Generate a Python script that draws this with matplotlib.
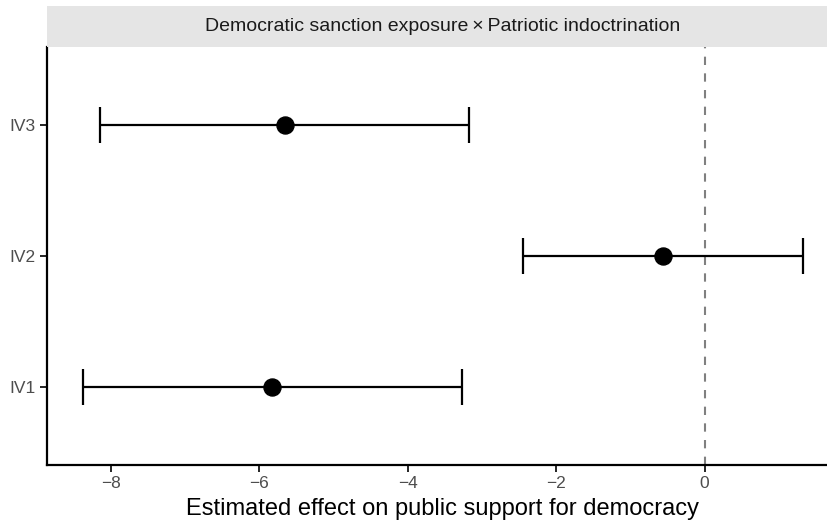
import matplotlib
matplotlib.use("Agg")
import matplotlib.pyplot as plt
from matplotlib.patches import Rectangle

plt.rcParams['font.family'] = ['Liberation Sans', 'DejaVu Sans']

# coefficient estimates with 95% intervals
terms = ["IV1", "IV2", "IV3"]
estimate = [-5.83, -0.56, -5.65]
lower = [-8.37, -2.45, -8.14]
upper = [-3.27, 1.33, -3.17]
xticks = [-8, -6, -4, -2, 0]
panel_title = "Democratic sanction exposure\u2009\u00d7\u2009Patriotic indoctrination"

fig = plt.figure(figsize=(8.27, 5.24), dpi=100)
W, H = 827, 524
left, right, top, bottom = 47, 827, 47, 465
ax = fig.add_axes([left / W, 1 - bottom / H, (right - left) / W, (bottom - top) / H])

ypos = list(range(1, len(terms) + 1))
ax.axvline(0, color="#808080", ls=(0, (4, 4)), lw=1.5, zorder=1)
ax.errorbar(estimate, ypos,
            xerr=[[e - l for e, l in zip(estimate, lower)],
                  [u - e for e, u in zip(estimate, upper)]],
            fmt="none", ecolor="black", elinewidth=1.6, capsize=13, capthick=1.6, zorder=2)
ax.scatter(estimate, ypos, s=150, color="black", zorder=3)

ax.set_xlim(-8.86, 1.65)
ax.set_ylim(0.4, 3.6)
ax.set_yticks(ypos)
ax.set_yticklabels(terms)
ax.set_xticks(xticks)
ax.set_xticklabels([str(t).replace("-", "\u2212") for t in xticks])
ax.tick_params(labelsize=12.5, length=5, width=1.2, color="black", labelcolor="#4D4D4D", pad=3)
for s in ["top", "right"]:
    ax.spines[s].set_visible(False)
for s in ["left", "bottom"]:
    ax.spines[s].set_linewidth(1.6)
ax.set_xlabel("Estimated effect on public support for democracy", fontsize=17)
mid = 443
ax.xaxis.set_label_coords((mid - left) / (right - left), -(509 - bottom) / (bottom - top))
ax.xaxis.label.set_va("center")

# facet strip above the panel
strip_top = 6
fig.patches.append(Rectangle((left / W, 1 - top / H), (right - left) / W, (top - strip_top) / H,
                             transform=fig.transFigure, facecolor="#E5E5E5", edgecolor="none"))
fig.text(mid / W, 1 - (top + strip_top) / 2 / H, panel_title,
         ha="center", va="center", fontsize=14, color="#1A1A1A")

fig.savefig("out.png", dpi=100)
